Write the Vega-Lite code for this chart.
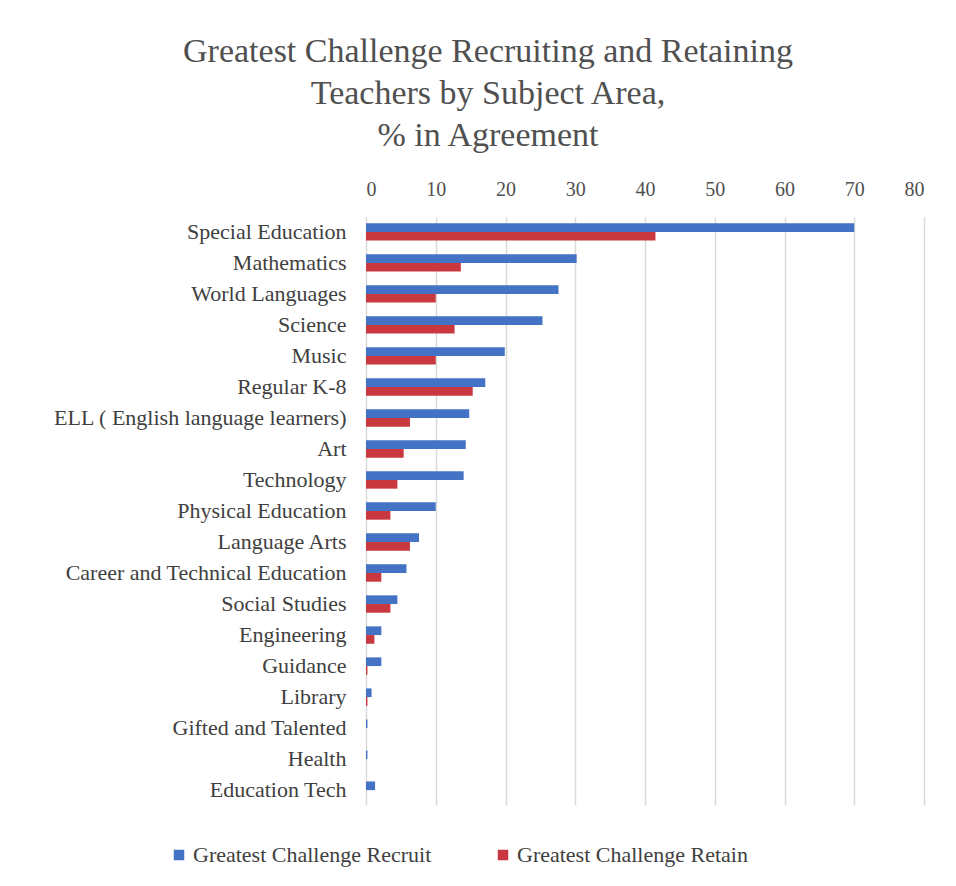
{
  "$schema": "https://vega.github.io/schema/vega-lite/v6.json",
  "autosize": "none",
  "width": 558,
  "height": 588,
  "padding": {"left": 366, "top": 217, "right": 32, "bottom": 81},
  "background": "white",
  "title": {
    "text": ["Greatest Challenge Recruiting and Retaining", "Teachers by Subject Area,", "% in Agreement"],
    "font": "Liberation Serif",
    "fontSize": 34,
    "fontWeight": "normal",
    "color": "#505050",
    "lineHeight": 42,
    "anchor": "middle",
    "dx": -157,
    "offset": 26
  },
  "data": {
    "values": [
      {"subject": "Special Education", "series": "Greatest Challenge Recruit", "value": 70},
      {"subject": "Special Education", "series": "Greatest Challenge Retain", "value": 41.5},
      {"subject": "Mathematics", "series": "Greatest Challenge Recruit", "value": 30.2},
      {"subject": "Mathematics", "series": "Greatest Challenge Retain", "value": 13.6},
      {"subject": "World Languages", "series": "Greatest Challenge Recruit", "value": 27.6},
      {"subject": "World Languages", "series": "Greatest Challenge Retain", "value": 10},
      {"subject": "Science", "series": "Greatest Challenge Recruit", "value": 25.3},
      {"subject": "Science", "series": "Greatest Challenge Retain", "value": 12.7},
      {"subject": "Music", "series": "Greatest Challenge Recruit", "value": 19.9},
      {"subject": "Music", "series": "Greatest Challenge Retain", "value": 10},
      {"subject": "Regular K-8", "series": "Greatest Challenge Recruit", "value": 17.1},
      {"subject": "Regular K-8", "series": "Greatest Challenge Retain", "value": 15.3},
      {"subject": "ELL ( English language learners)", "series": "Greatest Challenge Recruit", "value": 14.8},
      {"subject": "ELL ( English language learners)", "series": "Greatest Challenge Retain", "value": 6.3},
      {"subject": "Art", "series": "Greatest Challenge Recruit", "value": 14.3},
      {"subject": "Art", "series": "Greatest Challenge Retain", "value": 5.4},
      {"subject": "Technology", "series": "Greatest Challenge Recruit", "value": 14},
      {"subject": "Technology", "series": "Greatest Challenge Retain", "value": 4.5},
      {"subject": "Physical Education", "series": "Greatest Challenge Recruit", "value": 10},
      {"subject": "Physical Education", "series": "Greatest Challenge Retain", "value": 3.5},
      {"subject": "Language Arts", "series": "Greatest Challenge Recruit", "value": 7.6},
      {"subject": "Language Arts", "series": "Greatest Challenge Retain", "value": 6.3},
      {"subject": "Career and Technical Education", "series": "Greatest Challenge Recruit", "value": 5.8},
      {"subject": "Career and Technical Education", "series": "Greatest Challenge Retain", "value": 2.2},
      {"subject": "Social Studies", "series": "Greatest Challenge Recruit", "value": 4.5},
      {"subject": "Social Studies", "series": "Greatest Challenge Retain", "value": 3.5},
      {"subject": "Engineering", "series": "Greatest Challenge Recruit", "value": 2.2},
      {"subject": "Engineering", "series": "Greatest Challenge Retain", "value": 1.2},
      {"subject": "Guidance", "series": "Greatest Challenge Recruit", "value": 2.2},
      {"subject": "Guidance", "series": "Greatest Challenge Retain", "value": 0.2},
      {"subject": "Library", "series": "Greatest Challenge Recruit", "value": 0.8},
      {"subject": "Library", "series": "Greatest Challenge Retain", "value": 0.2},
      {"subject": "Gifted and Talented", "series": "Greatest Challenge Recruit", "value": 0.2},
      {"subject": "Gifted and Talented", "series": "Greatest Challenge Retain", "value": 0},
      {"subject": "Health", "series": "Greatest Challenge Recruit", "value": 0.2},
      {"subject": "Health", "series": "Greatest Challenge Retain", "value": 0},
      {"subject": "Education Tech", "series": "Greatest Challenge Recruit", "value": 1.3},
      {"subject": "Education Tech", "series": "Greatest Challenge Retain", "value": 0}
    ]
  },
  "mark": {"type": "bar"},
  "encoding": {
    "y": {
      "field": "subject",
      "type": "nominal",
      "sort": null,
      "scale": {"paddingInner": 0.44, "paddingOuter": 0.2},
      "axis": {
        "title": null,
        "ticks": false,
        "domain": false,
        "labelFont": "Liberation Serif",
        "labelFontSize": 22,
        "labelColor": "#404040",
        "labelPadding": 20,
        "labelLimit": 400
      }
    },
    "yOffset": {"field": "series", "type": "nominal", "sort": ["Greatest Challenge Recruit", "Greatest Challenge Retain"]},
    "x": {
      "field": "value",
      "type": "quantitative",
      "scale": {"domain": [0, 80], "nice": false},
      "axis": {
        "orient": "top",
        "title": null,
        "values": [0, 10, 20, 30, 40, 50, 60, 70, 80],
        "ticks": false,
        "domain": false,
        "grid": true,
        "gridColor": "#d9d9d9",
        "gridWidth": 1.5,
        "labelFont": "Liberation Serif",
        "labelFontSize": 20,
        "labelColor": "#505050",
        "labelPadding": 18
      }
    },
    "color": {
      "field": "series",
      "type": "nominal",
      "scale": {"domain": ["Greatest Challenge Recruit", "Greatest Challenge Retain"], "range": ["#4472C4", "#C9383F"]},
      "legend": {
        "title": null,
        "orient": "none",
        "direction": "horizontal",
        "legendX": -198,
        "legendY": 627,
        "symbolType": "square",
        "symbolSize": 110,
        "symbolStrokeWidth": 0,
        "labelFont": "Liberation Serif",
        "labelFontSize": 22,
        "labelColor": "#404040",
        "labelOffset": 3,
        "columnPadding": 60,
        "labelLimit": 400
      }
    }
  },
  "config": {"view": {"stroke": null}}
}
